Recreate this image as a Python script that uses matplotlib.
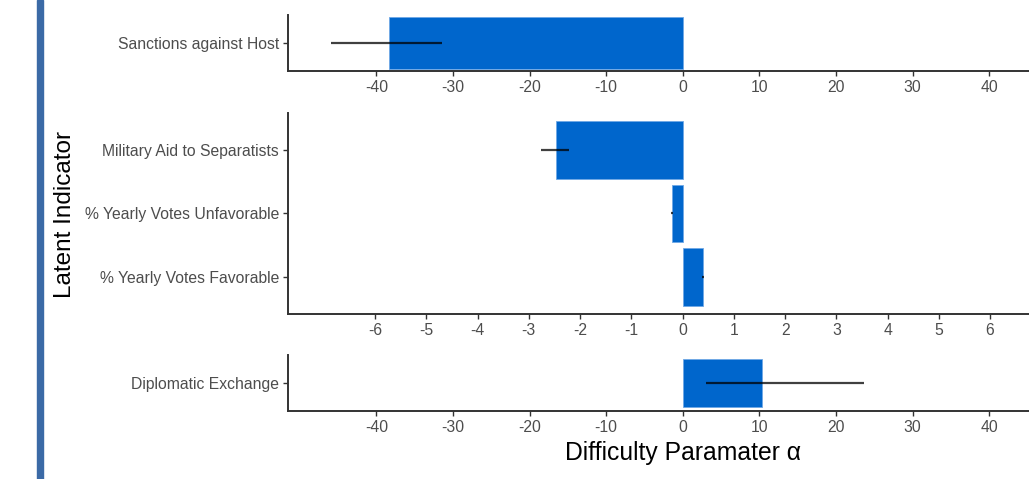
import numpy as np
import matplotlib
matplotlib.use("Agg")
import matplotlib.pyplot as plt
from matplotlib.patches import Rectangle

plt.rcParams['font.family'] = ['Liberation Sans', 'DejaVu Sans']

# top panel
top_labels = ["Sanctions against Host"]
top_vals = [-38.3]
top_lo = [-45.9]
top_hi = [-31.5]

# middle panel (bottom to top)
mid_labels = ["% Yearly Votes Favorable", "% Yearly Votes Unfavorable", "Military Aid to Separatists"]
mid_vals = [0.39, -0.20, -2.47]
mid_lo = [0.38, -0.22, -2.76]
mid_hi = [0.41, -0.18, -2.22]

# bottom panel
bot_labels = ["Diplomatic Exchange"]
bot_vals = [10.4]
bot_lo = [3.0]
bot_hi = [23.6]

wide_ticks = [-40, -30, -20, -10, 0, 10, 20, 30, 40]
narrow_ticks = [-6, -5, -4, -3, -2, -1, 0, 1, 2, 3, 4, 5, 6]

W, H = 1029, 479
fig = plt.figure(figsize=(W / 100, H / 100), dpi=100)

bar_col = "#0066cc"
tick_col = "#4d4d4d"
spine_col = "#333333"


def panel(top, bottom, labels, vals, lo, hi, xlim, ticks, ylim, bh):
    ax = fig.add_axes([288 / W, 1 - bottom / H, (W - 288) / W, (bottom - top) / H])
    y = np.arange(len(labels))
    ax.barh(y, vals, height=bh, color=bar_col, edgecolor="#6fa8e6", linewidth=0.6)
    ax.hlines(y, lo, hi, color="black", alpha=0.75, linewidth=1.6)
    ax.set_yticks(y)
    ax.set_yticklabels(labels)
    ax.set_xticks(ticks)
    ax.set_xticklabels([str(t) for t in ticks])
    ax.set_xlim(*xlim)
    ax.set_ylim(*ylim)
    for s in ["top", "right"]:
        ax.spines[s].set_visible(False)
    for s in ["left", "bottom"]:
        ax.spines[s].set_color(spine_col)
        ax.spines[s].set_linewidth(1.4)
    ax.tick_params(axis="both", colors=spine_col, labelcolor=tick_col,
                   labelsize=11.3, length=3.5, width=1.0, pad=3)
    return ax


panel(15, 70.7, top_labels, top_vals, top_lo, top_hi,
      (-51.55, 45.2), wide_ticks, (-0.485, 0.485), 0.9)
panel(112.7, 314, mid_labels, mid_vals, mid_lo, mid_hi,
      (-7.70, 6.76), narrow_ticks, (-0.583, 2.587), 0.9)
ax3 = panel(355, 410.7, bot_labels, bot_vals, bot_lo, bot_hi,
            (-51.55, 45.2), wide_ticks, (-0.52, 0.52), 0.9)

fig.text(683 / W, 1 - 453 / H, "Difficulty Paramater \u03b1", ha="center", va="center",
         fontsize=17.8, color="black")
fig.text(65 / W, 1 - 214 / H, "Latent Indicator", ha="center", va="center",
         rotation=90, fontsize=17.5, color="black")

# page-side blue bar
fig.patches.append(Rectangle((37 / W, 0), 6 / W, 1, transform=fig.transFigure,
                             color="#3b6aa6", zorder=0))

fig.savefig("out.png", dpi=100)
